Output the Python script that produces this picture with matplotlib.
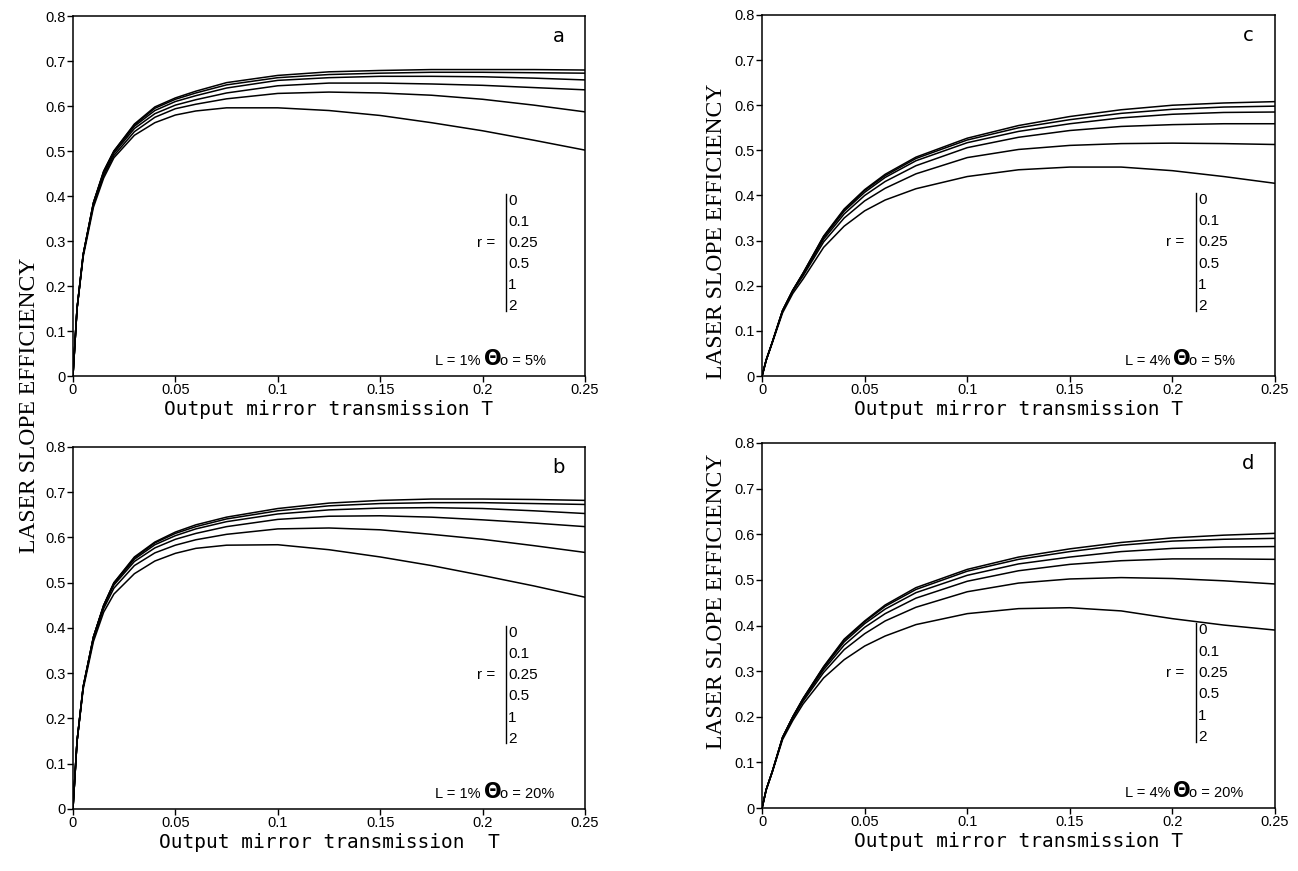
import numpy as np
import matplotlib.pyplot as plt

# output mirror transmission grid
T = np.array([0, 0.002, 0.005, 0.01, 0.015, 0.02, 0.03, 0.04, 0.05, 0.06,
              0.075, 0.1, 0.125, 0.15, 0.175, 0.2, 0.225, 0.25])

r_labels = ["0", "0.1", "0.25", "0.5", "1", "2"]

# panel a: L = 1%, theta0 = 5%
eff_a = [
    [0, 0.15, 0.27, 0.385, 0.455, 0.500, 0.560, 0.598, 0.618, 0.633, 0.652, 0.668, 0.676, 0.679, 0.681, 0.681, 0.681, 0.680],
    [0, 0.15, 0.27, 0.385, 0.455, 0.500, 0.558, 0.595, 0.615, 0.629, 0.647, 0.663, 0.670, 0.673, 0.675, 0.675, 0.674, 0.673],
    [0, 0.15, 0.27, 0.385, 0.453, 0.498, 0.555, 0.590, 0.610, 0.623, 0.640, 0.657, 0.663, 0.666, 0.666, 0.665, 0.662, 0.658],
    [0, 0.15, 0.27, 0.383, 0.450, 0.495, 0.550, 0.583, 0.602, 0.614, 0.629, 0.645, 0.651, 0.651, 0.649, 0.646, 0.641, 0.636],
    [0, 0.15, 0.27, 0.380, 0.445, 0.490, 0.543, 0.575, 0.594, 0.604, 0.616, 0.628, 0.631, 0.629, 0.624, 0.615, 0.602, 0.587],
    [0, 0.15, 0.265, 0.375, 0.440, 0.485, 0.535, 0.563, 0.580, 0.589, 0.596, 0.596, 0.590, 0.579, 0.563, 0.545, 0.524, 0.502],
]

# panel b: L = 1%, theta0 = 20%
eff_b = [
    [0, 0.15, 0.27, 0.380, 0.450, 0.500, 0.557, 0.590, 0.612, 0.628, 0.645, 0.664, 0.676, 0.682, 0.685, 0.685, 0.684, 0.682],
    [0, 0.15, 0.27, 0.380, 0.450, 0.500, 0.555, 0.588, 0.609, 0.624, 0.641, 0.659, 0.670, 0.675, 0.677, 0.677, 0.675, 0.673],
    [0, 0.15, 0.27, 0.380, 0.450, 0.498, 0.552, 0.584, 0.604, 0.619, 0.635, 0.652, 0.661, 0.665, 0.666, 0.664, 0.659, 0.653],
    [0, 0.15, 0.27, 0.380, 0.448, 0.495, 0.547, 0.577, 0.596, 0.609, 0.624, 0.640, 0.647, 0.648, 0.645, 0.639, 0.632, 0.624],
    [0, 0.15, 0.27, 0.375, 0.443, 0.488, 0.538, 0.566, 0.583, 0.595, 0.607, 0.619, 0.621, 0.617, 0.607, 0.596, 0.582, 0.567],
    [0, 0.15, 0.265, 0.370, 0.435, 0.475, 0.520, 0.548, 0.565, 0.576, 0.583, 0.584, 0.573, 0.557, 0.538, 0.516, 0.493, 0.468],
]

# panel c: L = 4%, theta0 = 5%
eff_c = [
    [0, 0.035, 0.075, 0.145, 0.190, 0.228, 0.310, 0.370, 0.413, 0.447, 0.485, 0.527, 0.555, 0.575, 0.590, 0.600, 0.605, 0.608],
    [0, 0.035, 0.075, 0.145, 0.190, 0.228, 0.309, 0.368, 0.411, 0.444, 0.482, 0.523, 0.550, 0.568, 0.582, 0.591, 0.596, 0.598],
    [0, 0.035, 0.075, 0.145, 0.190, 0.227, 0.307, 0.365, 0.407, 0.440, 0.477, 0.517, 0.542, 0.559, 0.572, 0.580, 0.584, 0.585],
    [0, 0.035, 0.075, 0.145, 0.190, 0.225, 0.303, 0.359, 0.400, 0.431, 0.466, 0.506, 0.529, 0.544, 0.553, 0.557, 0.559, 0.559],
    [0, 0.035, 0.075, 0.143, 0.188, 0.222, 0.297, 0.350, 0.388, 0.416, 0.448, 0.484, 0.502, 0.511, 0.515, 0.516, 0.515, 0.513],
    [0, 0.035, 0.074, 0.140, 0.183, 0.215, 0.285, 0.332, 0.366, 0.390, 0.415, 0.442, 0.457, 0.463, 0.463, 0.455, 0.442, 0.427],
]

# panel d: L = 4%, theta0 = 20%
eff_d = [
    [0, 0.04, 0.08, 0.155, 0.200, 0.240, 0.310, 0.370, 0.410, 0.445, 0.483, 0.523, 0.550, 0.568, 0.582, 0.592, 0.598, 0.602],
    [0, 0.04, 0.08, 0.155, 0.200, 0.240, 0.309, 0.368, 0.408, 0.442, 0.479, 0.519, 0.545, 0.562, 0.576, 0.585, 0.589, 0.591],
    [0, 0.04, 0.08, 0.155, 0.200, 0.239, 0.307, 0.364, 0.404, 0.436, 0.472, 0.510, 0.535, 0.550, 0.562, 0.569, 0.572, 0.573],
    [0, 0.04, 0.08, 0.154, 0.199, 0.237, 0.303, 0.357, 0.396, 0.426, 0.460, 0.497, 0.520, 0.534, 0.542, 0.546, 0.546, 0.545],
    [0, 0.04, 0.08, 0.153, 0.197, 0.234, 0.297, 0.347, 0.382, 0.410, 0.440, 0.474, 0.493, 0.502, 0.505, 0.503, 0.498, 0.491],
    [0, 0.04, 0.079, 0.150, 0.192, 0.228, 0.285, 0.325, 0.355, 0.377, 0.402, 0.426, 0.437, 0.439, 0.432, 0.415, 0.401, 0.390],
]

panels = [
    # data, letter, L text, theta text, xlabel, rect
    (eff_a, "a", "L = 1%", "o = 5%", "Output mirror transmission T", [0.0562, 0.5683, 0.3945, 0.4133]),
    (eff_b, "b", "L = 1%", "o = 20%", "Output mirror transmission  T", [0.0562, 0.0712, 0.3945, 0.4156]),
    (eff_c, "c", "L = 4%", "o = 5%", "Output mirror transmission T", [0.5871, 0.5683, 0.3952, 0.4145]),
    (eff_d, "d", "L = 4%", "o = 20%", "Output mirror transmission T", [0.5871, 0.0723, 0.3952, 0.4191]),
]

fig = plt.figure(figsize=(12.98, 8.71), dpi=100)

for eff, letter, ltxt, ttxt, xlab, rect in panels:
    ax = fig.add_axes(rect)
    for curve in eff:
        ax.plot(T, curve, color="black", lw=1.1)
    ax.set_xlim(0, 0.25)
    ax.set_ylim(0, 0.8)
    ax.set_xticks([0, 0.05, 0.1, 0.15, 0.2, 0.25])
    ax.set_xticklabels(["0", "0.05", "0.1", "0.15", "0.2", "0.25"])
    ax.set_yticks(np.arange(0, 0.81, 0.1))
    ax.set_yticklabels(["0", "0.1", "0.2", "0.3", "0.4", "0.5", "0.6", "0.7", "0.8"])
    ax.tick_params(direction="out", length=4, width=1, pad=1,
                   labelsize=10.5, labelfontfamily="Liberation Sans")
    for s in ax.spines.values():
        s.set_linewidth(1.1)
    ax.set_xlabel(xlab, family="DejaVu Sans Mono", fontsize=14, labelpad=2)

    # panel letter
    ax.text(0.237, 0.755, letter, fontsize=14, family="DejaVu Sans", ha="center", va="center")

    # r legend: bracket line with values
    ax.plot([0.2115, 0.2115], [0.405, 0.145], color="black", lw=1.0)
    for i, lab in enumerate(r_labels):
        ax.text(0.2125, 0.39 - i * 0.047, lab, fontsize=11, family="Liberation Sans",
                ha="left", va="center")
    ax.text(0.206, 0.39 - 2 * 0.047, "r =", fontsize=11, family="Liberation Sans",
            ha="right", va="center")

    # loss / theta annotation
    ax.text(0.199, 0.025, ltxt, fontsize=10.5, family="Liberation Sans",
            ha="right", va="baseline")
    ax.text(0.2005, 0.025, "Θ", fontsize=15, fontweight="bold", family="DejaVu Sans",
            ha="left", va="baseline")
    ax.text(0.2083, 0.025, ttxt, fontsize=10.5, family="Liberation Sans",
            ha="left", va="baseline")

# y labels
fig.text(30 / 1298, 0.535, "LASER SLOPE EFFICIENCY", rotation=90, family="Liberation Serif",
         fontsize=17, ha="center", va="center")
fig.text(717 / 1298, 0.735, "LASER SLOPE EFFICIENCY", rotation=90, family="Liberation Serif",
         fontsize=17, ha="center", va="center")
fig.text(717 / 1298, 0.31, "LASER SLOPE EFFICIENCY", rotation=90, family="Liberation Serif",
         fontsize=17, ha="center", va="center")

fig.savefig("out.png", dpi=100)
